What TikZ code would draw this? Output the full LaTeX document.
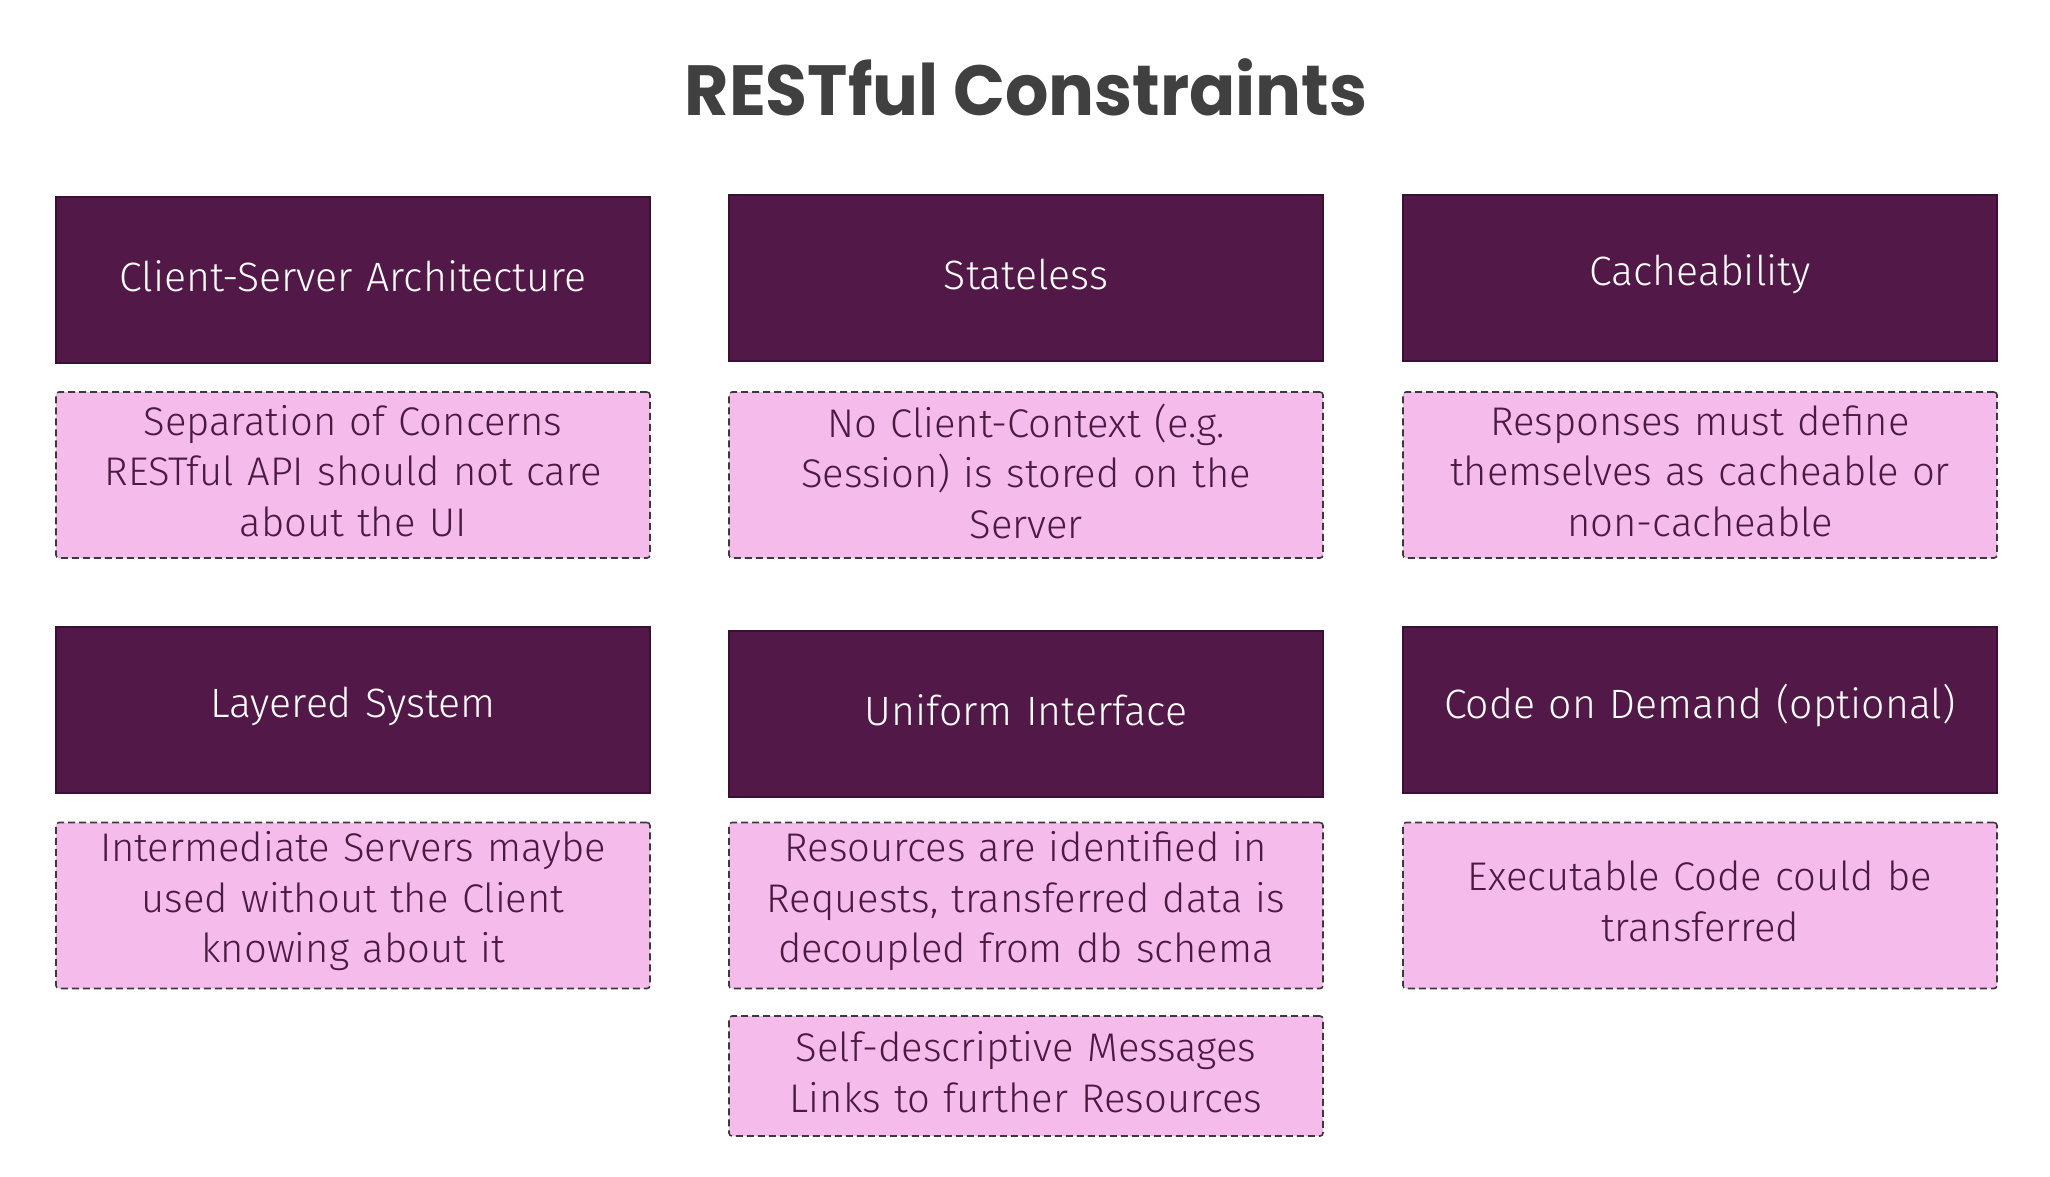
\documentclass[tikz,border=0pt]{standalone}
\usepackage{fontspec}
\newfontfamily\bodyfont{Fira Sans Light}
\newfontfamily\titlefont{Poppins Bold}[FakeStretch=0.96]
\definecolor{hdrfill}{HTML}{521848}
\definecolor{hdrline}{HTML}{3A0F33}
\definecolor{pinkfill}{HTML}{F5BBEB}
\definecolor{pinkline}{HTML}{3A3A3A}
\definecolor{pinktext}{HTML}{4A1A42}
\definecolor{titlegray}{HTML}{404040}
\tikzset{
  hdr/.style={rectangle, draw=hdrline, line width=1.2pt, fill=hdrfill,
    minimum width=594pt, minimum height=166pt, inner sep=0pt,
    text width=594pt, align=center, text=white,
    font=\bodyfont\fontsize{41}{50}\selectfont,
    execute at end node={\par\vspace*{8pt}}},
  desc/.style={rectangle, rounded corners=3pt, draw=pinkline, line width=1.6pt,
    dash pattern=on 7pt off 4pt, fill=pinkfill,
    minimum width=594pt, minimum height=166pt, inner sep=0pt,
    text width=594pt, align=center, text=pinktext,
    font=\bodyfont\fontsize{40}{50.5}\selectfont,
    execute at end node={\par\vspace*{8pt}}},
}
\begin{document}
\begin{tikzpicture}[x=1pt,y=-1pt]
\useasboundingbox[fill=white] (0,0) rectangle (2050,1176);
\node[font=\titlefont\fontsize{71}{80}\selectfont, text=titlegray, anchor=base] (title) at (1026,115) {RESTful Constraints};

\node[hdr] (h1) at (353,280) {Client-Server Architecture};
\node[hdr] (h2) at (1026,278) {Stateless};
\node[hdr] (h3) at (1700,278) {Cacheability};

\node[desc] (d1) at (353,475) {Separation of Concerns\\RESTful API should not care\\about the UI};
\node[desc] (d2) at (1026,475) {No Client-Context (e.g.\\Session) is stored on the\\Server};
\node[desc] (d3) at (1700,475) {Responses must define\\themselves as cacheable or\\non-cacheable};

\node[hdr] (h4) at (353,710) {Layered System};
\node[hdr] (h5) at (1026,714) {Uniform Interface};
\node[hdr] (h6) at (1700,710) {Code on Demand (optional)};

\node[desc] (d4) at (353,905.5) {Intermediate Servers maybe\\used without the Client\\knowing about it};
\node[desc] (d5) at (1026,905.5) {Resources are identified in\\Requests, transferred data is\\decoupled from db schema};
\node[desc] (d6) at (1700,905.5) {Executable Code could be\\transferred};
\node[desc, minimum height=120pt] (d7) at (1026,1076) {Self-descriptive Messages\\Links to further Resources};
\end{tikzpicture}
\end{document}
